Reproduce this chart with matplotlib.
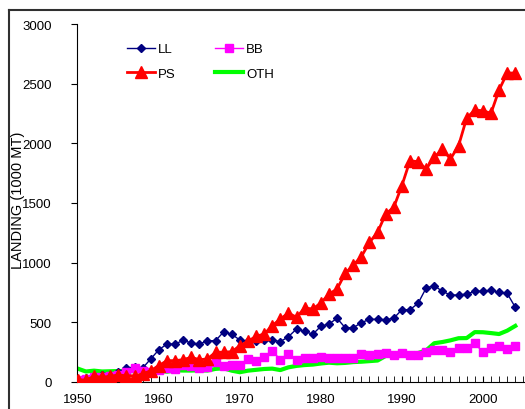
import numpy as np
import matplotlib
matplotlib.use("Agg")
import matplotlib.pyplot as plt
from matplotlib.lines import Line2D

plt.rcParams['font.family'] = ['Liberation Sans', 'DejaVu Sans']

years = np.arange(1950, 2005)

ll = [20, 30, 45, 55, 60, 80, 120, 123, 117, 193,
      270, 318, 318, 349, 327, 318, 346, 346, 420, 400,
      352, 341, 341, 352, 352, 338, 380, 444, 425, 400,
      467, 486, 534, 455, 455, 497, 525, 525, 522, 534,
      606, 606, 659, 788, 807, 760, 729, 729, 737, 760,
      760, 768, 752, 743, 626]
ps = [20, 15, 48, 40, 48, 59, 52, 52, 67, 95,
      137, 179, 179, 187, 207, 187, 193, 249, 250, 254,
      304, 341, 383, 402, 472, 528, 578, 542, 620, 612,
      662, 737, 779, 910, 980, 1050, 1170, 1254, 1408, 1464,
      1645, 1854, 1846, 1785, 1883, 1952, 1869, 1980, 2212, 2279,
      2273, 2252, 2447, 2589, 2589]
bb = [20, 25, 40, 45, 50, 60, 80, 120, 90, 85,
      100, 115, 110, 140, 130, 115, 125, 165, 135, 140,
      140, 190, 179, 213, 262, 187, 238, 187, 204, 204,
      213, 204, 197, 197, 197, 232, 227, 235, 243, 229,
      243, 229, 229, 251, 272, 268, 254, 282, 282, 325,
      249, 284, 302, 280, 298]
oth = [112, 88, 95, 88, 90, 92, 92, 90, 100, 82,
       100, 86, 98, 96, 96, 98, 96, 110, 115, 95,
       82, 95, 102, 109, 112, 100, 123, 135, 142, 146,
       155, 162, 157, 160, 167, 170, 175, 180, 218, 230,
       238, 240, 243, 265, 325, 335, 349, 367, 368, 418,
       417, 410, 402, 430, 470]

W, H = 525, 410
fig = plt.figure(figsize=(W / 100, H / 100), dpi=100)
ax = fig.add_axes([77 / W, 1 - 383 / H, 1 - 77 / W, (383 - 25) / H])

l1, = ax.plot(years, ll, color='#000080', marker='D', ms=4, lw=1, label='LL', zorder=3)
l3, = ax.plot(years, bb, color='#FF00FF', marker='s', ms=6, lw=1, label='BB', zorder=4)
l2, = ax.plot(years, ps, color='#FF0000', marker='^', ms=8, lw=2, label='PS', zorder=5)
l4, = ax.plot(years, oth, color='#00FF00', lw=3, label='OTH', zorder=2)

ax.set_xlim(1949.9, 2005.2)
ax.set_ylim(0, 3000)
ax.set_xticks(range(1950, 2001, 10))
ax.set_xticks(range(1950, 2006), minor=True)
ax.set_yticks(range(0, 3001, 500))
ax.tick_params(axis='x', which='both', direction='in', length=4, labelsize=9.5, pad=8)
ax.tick_params(axis='y', direction='out', length=4, labelsize=9.5, pad=14)
for s in ['top', 'right']:
    ax.spines[s].set_visible(False)
ax.set_ylabel('LANDING (1000 MT)', fontsize=10.5, va='center')
ax.yaxis.set_label_coords(-(77 - 18) / 448, 0.51)

ax.legend(handles=[l1, l2, l3, l4], ncol=2, frameon=False, fontsize=9.5,
          loc='upper left', bbox_to_anchor=(127 / W, 1 - 44 / H),
          bbox_transform=fig.transFigure, borderaxespad=0, borderpad=0,
          handlelength=2.1, handletextpad=0.25, columnspacing=3.0,
          labelspacing=0.95, numpoints=1)

# outer frame (cropped on right/bottom)
fig.add_artist(Line2D([8.5 / W, 8.5 / W], [0, 1 - 11 / H], transform=fig.transFigure,
                      color='#303030', lw=1.5))
fig.add_artist(Line2D([8.5 / W, 1], [1 - 11 / H, 1 - 11 / H], transform=fig.transFigure,
                      color='#303030', lw=1.5))

fig.savefig('out.png', dpi=100)
